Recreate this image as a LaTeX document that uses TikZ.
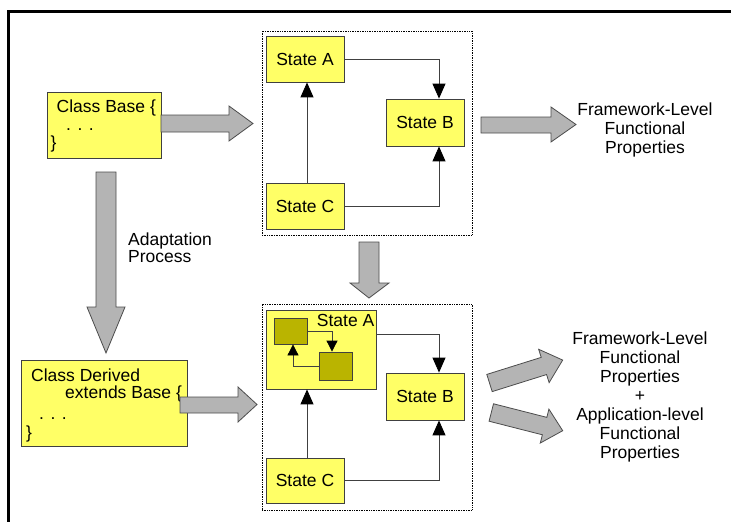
\documentclass[tikz,border=0pt]{standalone}
\usepackage{fontspec}
\setmainfont{Liberation Sans}
\usetikzlibrary{arrows.meta,calc}
\definecolor{boxyellow}{RGB}{255,255,102}
\definecolor{sqolive}{RGB}{186,180,0}
\definecolor{arrowgrey}{RGB}{180,180,180}
\begin{document}
\begin{tikzpicture}[x=1pt,y=-1pt,
  font=\fontsize{17.5}{18.9}\selectfont,
  stbox/.style={draw=black!75, fill=boxyellow, line width=0.8pt, inner sep=0pt},
  sqbox/.style={draw=black!75, fill=sqolive, line width=0.8pt, inner sep=0pt},
  dbox/.style={draw=black, densely dotted, line width=0.7pt, inner sep=0pt},
  txt/.style={inner sep=0pt},
  conn/.style={draw=black!75, line width=0.9pt, -{Triangle[width=13pt,length=15pt,color=black,fill=black]}},
  sconn/.style={draw=black!75, line width=0.8pt, -{Triangle[width=11pt,length=11pt,color=black,fill=black]}},
  barrow/.style={draw=black!70, fill=arrowgrey, line width=0.8pt, line join=miter}
]
\useasboundingbox (0,0) rectangle (731,522);
% frame
\draw[line width=3pt] (8.7,522) -- (8.7,11.7) -- (740,11.7);

% dotted boxes
\node[dbox, minimum width=210, minimum height=204] (ubox) at (367,133) {};
\node[dbox, minimum width=210, minimum height=206] (lbox) at (367,407) {};

% class base
\node[stbox, minimum width=114, minimum height=66] (base) at (104,125) {};
\node[txt, anchor=base west] (baseT1) at (56.5,112) {Class Base \{};
\node[txt, anchor=base west] (baseT2) at (66,130) {. . .};
\node[txt, anchor=base west] (baseT3) at (50.5,148) {\}};

% class derived
\node[stbox, minimum width=166, minimum height=86] (derived) at (104,403) {};
\node[txt, anchor=base west] (derT1) at (31,381.5) {Class Derived};
\node[txt, anchor=base west] (derT2) at (65,398) {extends Base \{};
\node[txt, anchor=base west] (derT3) at (39,419) {. . .};
\node[txt, anchor=base west] (derT4) at (26,438) {\}};

% upper states
\node[stbox, minimum width=78, minimum height=46] (uA) at (305,59) {State A};
\node[stbox, minimum width=78, minimum height=47] (uB) at (425,122.5) {State B};
\node[stbox, minimum width=78, minimum height=46] (uC) at (305,206) {State C};
\draw[conn] (uA.east) -| ([xshift=14pt]uB.north);
\draw[conn] ([xshift=2pt]uC.north) -- ([xshift=2pt]uA.south);
\draw[conn] (uC.east) -| ([xshift=14pt]uB.south);

% lower states
\node[stbox, minimum width=110, minimum height=79] (lA) at (321,349.5) {};
\node[txt, anchor=base east] (lAT) at (374.5,326) {State A};
\node[sqbox, minimum width=33, minimum height=26] (sq1) at (290.5,331) {};
\node[sqbox, minimum width=33, minimum height=28] (sq2) at (335.5,366) {};
\node[stbox, minimum width=78, minimum height=47] (lB) at (425,396.5) {State B};
\node[stbox, minimum width=78, minimum height=45] (lC) at (305,480.5) {State C};
\coordinate (yAB) at (0,334);
\draw[conn] (lA.east |- yAB) -| ([xshift=14pt]lB.north);
\draw[conn] ([xshift=2pt]lC.north) -- ([xshift=2pt]lC.north |- lA.south);
\draw[conn] (lC.east) -| ([xshift=14pt]lB.south);
\draw[sconn] (sq1.east) -| ([xshift=-3.5pt]sq2.north);
\draw[sconn] (sq2.west) -| ([xshift=2.5pt]sq1.south);

% labels
\node[txt, anchor=base west] (adapt1) at (128,245) {Adaptation};
\node[txt, anchor=base west] (adapt2) at (128,262.5) {Process};
\node[txt, align=center, anchor=north] (fw1) at (645,102.5) {Framework-Level\\Functional\\Properties};
\node[txt, align=center, anchor=north] (fw2) at (640,332) {Framework-Level\\Functional\\Properties\\+\\Application-level\\Functional\\Properties};

% block arrows
\draw[barrow] (161,115) -- (229,115) -- (229,106) -- (253,123.5) -- (229,141) -- (229,132) -- (161,132) -- cycle;
\draw[barrow] (481,117) -- (551,117) -- (551,107) -- (576,124.5) -- (551,142) -- (551,133) -- (481,133) -- cycle;
\draw[barrow] (96,172) -- (116,172) -- (116,307) -- (125,307) -- (106,353) -- (87,307) -- (96,307) -- cycle;
\draw[barrow] (359,242) -- (379,242) -- (379,283) -- (389,283) -- (369,298) -- (350,283) -- (359,283) -- cycle;
\draw[barrow] (180,397) -- (238,397) -- (238,387) -- (257,404.5) -- (238,422) -- (238,413) -- (180,413) -- cycle;
\begin{scope}[shift={(489.5,383)}, rotate=17.4]
\draw[barrow] (0,-9) -- (57,-9) -- (57,-17.5) -- (76.7,0) -- (57,17.5) -- (57,9) -- (0,9) -- cycle;
\end{scope}
\begin{scope}[shift={(491.3,412.5)}, rotate=-14.3]
\draw[barrow] (0,-9) -- (55,-9) -- (55,-17.5) -- (73.7,0) -- (55,17.5) -- (55,9) -- (0,9) -- cycle;
\end{scope}
\end{tikzpicture}
\end{document}
